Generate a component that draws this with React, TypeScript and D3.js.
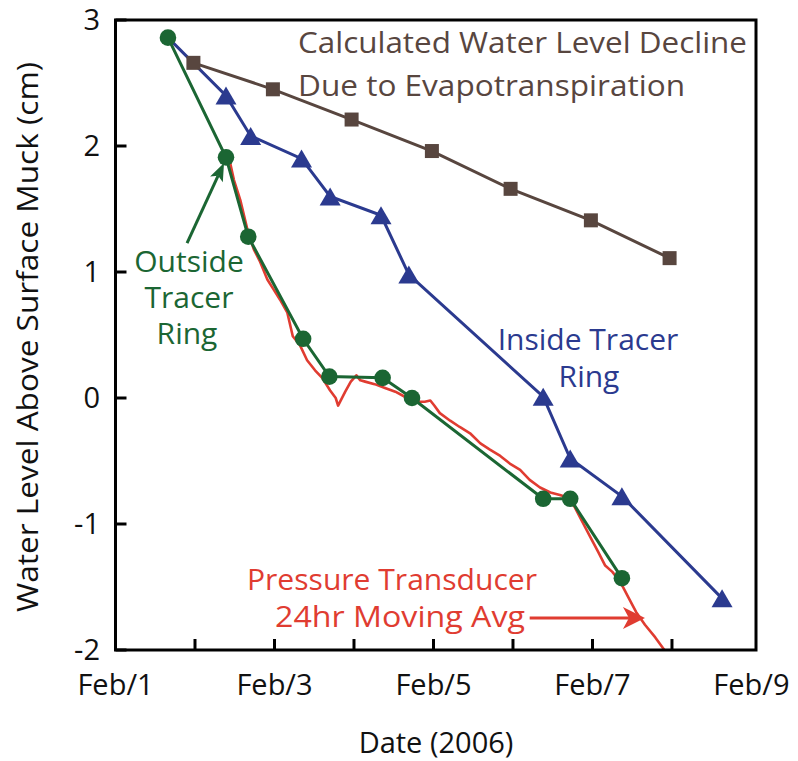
import React from "react";
import * as d3 from "d3";

// ---- data (day of Feb 2006, water level cm) ----
const outsideDays = [1.66, 2.39, 2.67, 3.36, 3.69, 4.36, 4.73, 6.38, 6.72, 7.37];
const outsideVals = [2.86, 1.91, 1.28, 0.47, 0.17, 0.16, 0.0, -0.8, -0.8, -1.43];

const insideDays = [1.66, 2.39, 2.70, 3.34, 3.70, 4.34, 4.69, 6.38, 6.72, 7.37, 8.63];
const insideVals = [2.86, 2.40, 2.08, 1.90, 1.60, 1.45, 0.98, 0.01, -0.48, -0.78, -1.59];

const etDays = [1.98, 2.98, 3.97, 4.98, 5.97, 6.98, 7.97];
const etVals = [2.66, 2.45, 2.21, 1.96, 1.66, 1.41, 1.11];

const ptDays = [2.43, 2.49, 2.57, 2.67, 2.74, 2.82, 2.91, 2.98, 3.07, 3.16, 3.23, 3.32, 3.41, 3.51, 3.6, 3.7, 3.77, 3.8, 3.89, 3.96, 4.03, 4.08, 4.14, 4.26, 4.39, 4.52, 4.64, 4.79, 4.89, 4.96, 5.01, 5.08, 5.21, 5.33, 5.46, 5.59, 5.71, 5.84, 5.96, 6.09, 6.21, 6.34, 6.47, 6.59, 6.69, 6.78, 6.87, 6.97, 7.07, 7.16, 7.25, 7.35, 7.45, 7.55, 7.66, 7.79, 7.95];
const ptVals = [1.9, 1.73, 1.57, 1.31, 1.18, 1.08, 0.94, 0.87, 0.78, 0.68, 0.49, 0.42, 0.3, 0.22, 0.16, 0.06, 0.0, -0.06, 0.05, 0.13, 0.18, 0.14, 0.13, 0.11, 0.08, 0.05, 0.01, -0.03, -0.03, -0.02, -0.06, -0.12, -0.18, -0.23, -0.28, -0.36, -0.41, -0.46, -0.52, -0.57, -0.65, -0.71, -0.75, -0.77, -0.79, -0.87, -0.98, -1.1, -1.22, -1.33, -1.38, -1.46, -1.58, -1.7, -1.8, -1.9, -2.04];

const xTickDays = [1, 2, 3, 4, 5, 6, 7, 8, 9];
const xLabelDays = [1, 3, 5, 7, 9];
const yTicks = [3, 2, 1, 0, -1, -2];

// annotation arrows in data units [day, value]
const greenArrow = [[1.90, 1.23], [2.365, 1.865]];
const redArrow = [[6.21, -1.746], [7.66, -1.746]];

const GREEN = "#1b6633";
const BLUE = "#2b3a8f";
const BROWN = "#58463f";
const RED = "#e03c31";
const FONT = "'Open Sans', 'Noto Sans', sans-serif";

const W = 798;
const H = 761;

export default function App() {
  const x = d3.scaleLinear().domain([1, 9.057]).range([115.5, 756]);
  const y = d3.scaleLinear().domain([-2, 3]).range([650, 20]);

  const line = d3
    .line<[number, number]>()
    .x((d) => x(d[0]))
    .y((d) => y(d[1]));

  const zip = (a: number[], b: number[]) => a.map((v, i) => [v, b[i]] as [number, number]);
  const outside = zip(outsideDays, outsideVals);
  const inside = zip(insideDays, insideVals);
  const et = zip(etDays, etVals);
  const pt = zip(ptDays, ptVals);

  const tri = (cx: number, cy: number) => {
    const w = 21, h = 18;
    return `M${cx},${cy - h / 2}L${cx + w / 2},${cy + h / 2}L${cx - w / 2},${cy + h / 2}Z`;
  };

  const arrowHead = (p0: number[], p1: number[], len: number, wid: number, notch: number) => {
    const x0 = x(p0[0]), y0 = y(p0[1]), x1 = x(p1[0]), y1 = y(p1[1]);
    const dx = x1 - x0, dy = y1 - y0;
    const L = Math.hypot(dx, dy);
    const ux = dx / L, uy = dy / L;
    const nx = -uy, ny = ux;
    const bx = x1 - ux * len, by = y1 - uy * len;
    const mx = x1 - ux * (len - notch), my = y1 - uy * (len - notch);
    return {
      head: `M${x1},${y1}L${bx + nx * wid / 2},${by + ny * wid / 2}L${mx},${my}L${bx - nx * wid / 2},${by - ny * wid / 2}Z`,
      shaft: `M${x0},${y0}L${mx},${my}`,
    };
  };
  const ga = arrowHead(greenArrow[0], greenArrow[1], 18, 14, 4);
  const ra = arrowHead(redArrow[0], redArrow[1], 22, 22, 6);

  const x0 = x.range()[0], x1 = x.range()[1];
  const yTop = y(3), yBot = y(-2);

  return (
    <svg
      width={W}
      height={H}
      viewBox={`0 0 ${W} ${H}`}
      style={{ position: "absolute", left: 0, top: 0, background: "#fff" }}
      fontFamily={FONT}
    >
      <defs>
        <clipPath id="plot">
          <rect x={x0} y={yTop} width={x1 - x0} height={yBot - yTop} />
        </clipPath>
      </defs>

      {/* series */}
      <g clipPath="url(#plot)">
        <path d={line(pt) || ""} fill="none" stroke={RED} strokeWidth={2.6} strokeLinejoin="round" />
      </g>
      <path d={line(inside) || ""} fill="none" stroke={BLUE} strokeWidth={3} />
      {inside.slice(1).map((d, i) => (
        <path key={"t" + i} d={tri(x(d[0]), y(d[1]))} fill={BLUE} />
      ))}
      <path d={line(et) || ""} fill="none" stroke={BROWN} strokeWidth={3} />
      {et.map((d, i) => (
        <rect key={"s" + i} x={x(d[0]) - 7} y={y(d[1]) - 7} width={14} height={14} fill={BROWN} />
      ))}
      <path d={line(outside) || ""} fill="none" stroke={GREEN} strokeWidth={3} />
      {outside.map((d, i) => (
        <circle key={"c" + i} cx={x(d[0])} cy={y(d[1])} r={8.3} fill={GREEN} />
      ))}

      {/* frame and ticks */}
      <rect x={x0} y={yTop} width={x1 - x0} height={yBot - yTop} fill="none" stroke="#000" strokeWidth={3} />
      {yTicks.map((t) => (
        <g key={"yt" + t}>
          <line x1={x0} x2={x0 + 11} y1={y(t)} y2={y(t)} stroke="#000" strokeWidth={3} />
          <text x={100} y={y(t)} dy="0.36em" textAnchor="end" fontSize={29} fill="#111">
            {t < 0 ? "-" + Math.abs(t) : t}
          </text>
        </g>
      ))}
      {xTickDays.filter((d) => d > 1 && d < 9).map((d) => (
        <line key={"xt" + d} x1={x(d)} x2={x(d)} y1={yBot} y2={yBot - 11} stroke="#000" strokeWidth={3} />
      ))}
      {xLabelDays.map((d) => (
        <text key={"xl" + d} x={x(d)} y={695} textAnchor="middle" fontSize={29} fill="#111">
          {"Feb/" + d}
        </text>
      ))}

      {/* axis titles */}
      <text x={436} y={753} textAnchor="middle" fontSize={29} fill="#111">
        Date (2006)
      </text>
      <text
        transform="translate(38,337) rotate(-90)"
        textAnchor="middle"
        fontSize={29}
        fill="#111"
        textLength={550}
        lengthAdjust="spacingAndGlyphs"
      >
        Water Level Above Surface Muck (cm)
      </text>

      {/* annotations */}
      <text x={298} y={53} fontSize={30} fill={BROWN} textLength={449} lengthAdjust="spacingAndGlyphs">
        Calculated Water Level Decline
      </text>
      <text x={298} y={96} fontSize={30} fill={BROWN} textLength={387} lengthAdjust="spacingAndGlyphs">
        Due to Evapotranspiration
      </text>

      <text x={588} y={350} textAnchor="middle" fontSize={30} fill={BLUE}>
        Inside Tracer
      </text>
      <text x={589} y={387} textAnchor="middle" fontSize={30} fill={BLUE}>
        Ring
      </text>

      <text x={189} y={272} textAnchor="middle" fontSize={30} fill={GREEN}>
        Outside
      </text>
      <text x={189} y={308} textAnchor="middle" fontSize={30} fill={GREEN}>
        Tracer
      </text>
      <text x={187} y={344} textAnchor="middle" fontSize={30} fill={GREEN}>
        Ring
      </text>
      <path d={ga.shaft} stroke={GREEN} strokeWidth={3} fill="none" />
      <path d={ga.head} fill={GREEN} />

      <text x={247} y={590} fontSize={30} fill={RED} textLength={290} lengthAdjust="spacingAndGlyphs">
        Pressure Transducer
      </text>
      <text x={275} y={627} fontSize={30} fill={RED} textLength={250} lengthAdjust="spacingAndGlyphs">
        24hr Moving Avg
      </text>
      <path d={ra.shaft} stroke={RED} strokeWidth={3} fill="none" />
      <path d={ra.head} fill={RED} />
    </svg>
  );
}
